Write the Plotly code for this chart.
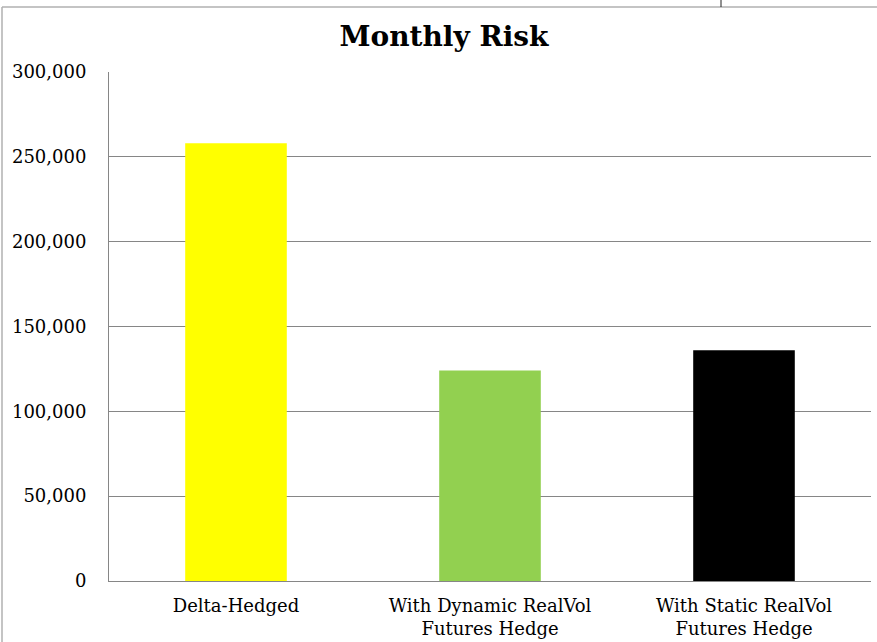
import plotly.graph_objects as go

categories = ["Delta-Hedged", "With Dynamic RealVol<br>Futures Hedge", "With Static RealVol<br>Futures Hedge"]
values = [258000, 124000, 136000]
colors = ["#FFFF00", "#92D050", "#000000"]
tick_vals = [0, 50000, 100000, 150000, 200000, 250000, 300000]
tick_text = ["0", "50,000", "100,000", "150,000", "200,000", "250,000", "300,000"]

W, H = 877, 642
ml, mr, mt, mb = 109, 6, 72, 61
pw = W - ml - mr
ph = H - mt - mb

def px_x(x):
    return (x - ml) / pw

def px_y(y):
    return (H - mb - y) / ph

fig = go.Figure(go.Bar(x=categories, y=values, marker=dict(color=colors, line=dict(width=0)), width=0.4))

font_family = "Georgia, 'DejaVu Serif', serif"

fig.update_layout(
    width=W, height=H,
    margin=dict(l=ml, r=mr, t=mt, b=mb, autoexpand=False),
    paper_bgcolor="white", plot_bgcolor="white",
    showlegend=False,
    title=dict(text="<b>Monthly Risk</b>", x=px_x(444), xref="paper", xanchor="center",
               y=1 - 36 / H, yanchor="middle",
               font=dict(family=font_family, size=28, color="black")),
    font=dict(family=font_family, color="black"),
    xaxis=dict(showgrid=False, showline=True, linecolor="#868686", linewidth=1,
               tickfont=dict(size=18, family=font_family, color="black"),
               ticks="", ticklabelstandoff=8, automargin=False),
    yaxis=dict(range=[0, 300000], tickvals=tick_vals, ticktext=tick_text,
               showgrid=True, gridcolor="#868686", gridwidth=1,
               showline=True, linecolor="#868686", linewidth=1, zeroline=False,
               tickfont=dict(size=18, family=font_family, color="black"),
               ticks="", ticklabelstandoff=18, automargin=False),
    shapes=[
        dict(type="line", xref="paper", yref="paper", x0=px_x(2), x1=px_x(2), y0=px_y(7), y1=px_y(H + 5),
             line=dict(color="#B0B0B0", width=1.5)),
        dict(type="line", xref="paper", yref="paper", x0=px_x(2), x1=px_x(W + 5), y0=px_y(7), y1=px_y(7),
             line=dict(color="#B0B0B0", width=1.5)),
        dict(type="line", xref="paper", yref="paper", x0=px_x(721), x1=px_x(721), y0=px_y(7), y1=px_y(-2),
             line=dict(color="#222222", width=1)),
    ],
)

fig.write_html("out.html")
